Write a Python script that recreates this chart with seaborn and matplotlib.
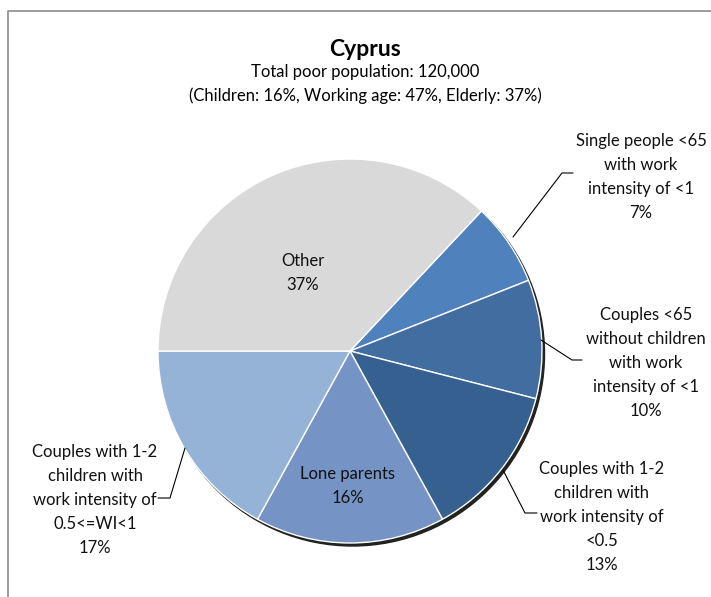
import numpy as np
import pandas as pd
import seaborn as sns
import matplotlib.pyplot as plt
from matplotlib.patches import Circle

# household types, clockwise starting from the "Other" / "Single" boundary
groups = ["Single people <65\nwith work\nintensity of <1",
          "Couples <65\nwithout children\nwith work\nintensity of <1",
          "Couples with 1-2\nchildren with\nwork intensity of\n<0.5",
          "Lone parents",
          "Couples with 1-2\nchildren with\nwork intensity of\n0.5<=WI<1",
          "Other"]
shares = [7, 10, 13, 16, 17, 37]
colors = ["#4F81BD", "#426DA0", "#36608F", "#7594C5", "#95B3D7", "#D9D9D9"]

title = "Cyprus"
subtitle = "Total poor population: 120,000\n(Children: 16%, Working age: 47%, Elderly: 37%)"

W, H = 711, 597


def py(y):
    # pixel row -> data y (y up)
    return H - y


sns.set_theme(style="white")
plt.rcParams['font.family'] = ['Lato', 'DejaVu Sans']

fig = plt.figure(figsize=(W / 100, H / 100), dpi=100)
ax = fig.add_axes([0, 0, 1, 1])

cx, cy, r = 350, py(351), 192

# thin drop shadow like excel
ax.add_patch(Circle((cx + 2.5, cy - 3), r, color="#222222", zorder=0))

start = 180 - 3.6 * shares[-1]
ax.pie(shares, colors=colors, startangle=start, counterclock=False,
       center=(cx, cy), radius=r, frame=True,
       wedgeprops=dict(edgecolor="white", linewidth=1.0))
ax.set_xlim(0, W)
ax.set_ylim(0, H)
ax.set_aspect('auto')
ax.axis('off')

# outer frame (cropped at right / bottom)
ax.plot([8, 8, W + 5], [py(H + 5), py(11), py(11)], color="#8c8c8c", lw=1.2,
        clip_on=False)

ax.text(365, py(49), title, ha='center', va='center', fontsize=16.5,
        fontweight='bold', color='black')
ax.text(365, py(84), subtitle, ha='center', va='center', fontsize=12,
        linespacing=1.55, color='black')

# label positions (pixel coords of block centre)
label_pos = [(641, 177), (646, 363), (602, 517), (348, 486), (95, 500), (303, 273)]
for g, s, (lx, ly) in zip(groups, shares, label_pos):
    ax.text(lx, py(ly), f"{g}\n{s}%", ha='center', va='center', fontsize=12,
            linespacing=1.6, color='#111111')

# leader lines
leaders = [
    [(513, 237), (562, 173), (573, 173)],
    [(541, 340), (572, 360), (582, 360)],
    [(503, 470), (525, 513), (537, 513)],
    [(185, 448), (170, 498), (158, 498)],
]
for pts in leaders:
    xs = [p[0] for p in pts]
    ys = [py(p[1]) for p in pts]
    ax.plot(xs, ys, color='black', lw=0.8)

fig.savefig("out.png", dpi=100)
